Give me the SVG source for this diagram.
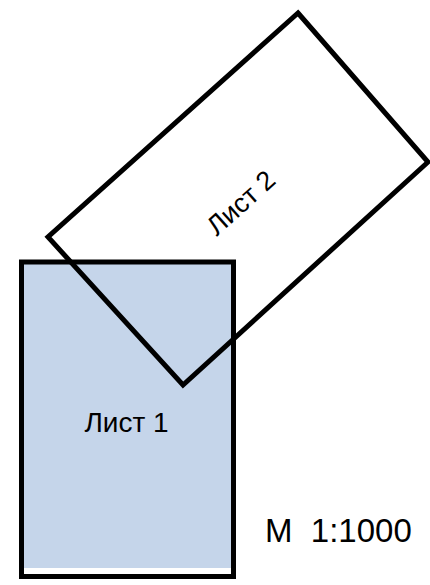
<svg xmlns="http://www.w3.org/2000/svg" width="430" height="585" viewBox="0 0 430 585">
<style>
.lbl{font-family:"Liberation Sans",Arial,sans-serif;fill:#000;}
.edge{fill:none;stroke:#000;stroke-width:5;stroke-linejoin:miter;}
</style>
<rect width="430" height="585" fill="#fff"/>
<g id="list1">
<rect x="21.5" y="262" width="212" height="306" fill="#c5d5ea"/>
<rect x="21.5" y="262" width="212" height="314.5" class="edge"/>
<text class="lbl" x="126.5" y="432" font-size="28" text-anchor="middle">Лист 1</text>
</g>
<g id="list2">
<polygon points="298,13 428,162 183,385 48,237" class="edge"/>
<text class="lbl" x="241" y="212" font-size="27" text-anchor="middle" transform="rotate(-42 241 203)">Лист 2</text>
</g>
<g id="scale">
<text class="lbl" x="265" y="542" font-size="33" xml:space="preserve">М  1:1000</text>
</g>
</svg>
